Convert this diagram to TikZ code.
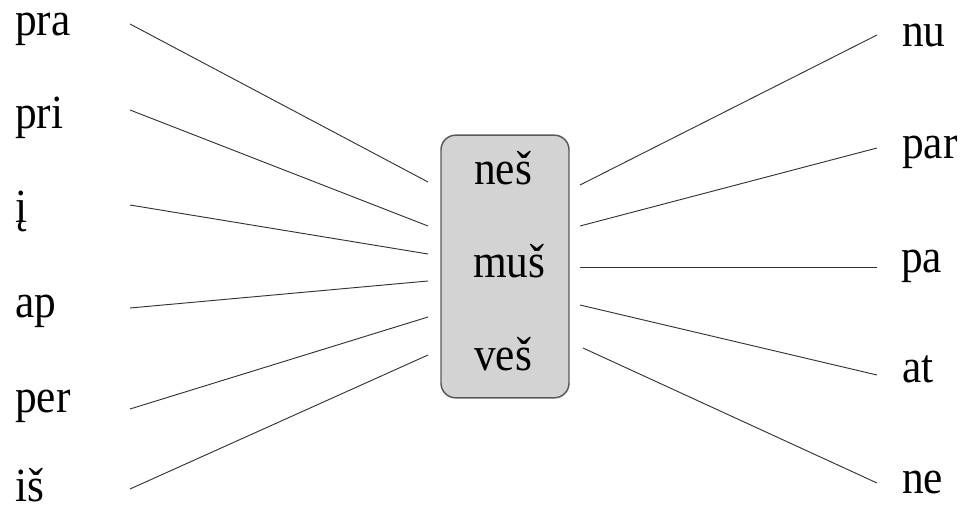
\documentclass[tikz,border=0pt]{standalone}
\usepackage{fontspec}
\setmainfont{Liberation Serif}
\usepackage{graphicx}
\usepackage{xcolor}
\usepackage{tikz}
\definecolor{boxgray}{RGB}{211,211,211}
\newcommand{\tallword}[1]{\scalebox{1}[1.1]{#1}}

\begin{document}
\begin{tikzpicture}[x=0.75pt, y=-0.75pt,
    word/.style={anchor=base west, inner sep=0pt, font=\fontsize{32.5}{38}\selectfont},
    link/.style={draw=black!80, line width=0.7pt},
    morph/.style={draw=black!65, line width=1.1pt, fill=boxgray, rounded corners=11pt,
                  minimum width=96pt, minimum height=197pt}]
            \useasboundingbox (0,0) rectangle (965,510);
            % center box
            \node[morph] (box) at (505,266.5) {};
            \node[word] (nes) at (474,185) {\tallword{neš}};
            \node[word] (mus) at (473,277) {\tallword{muš}};
            \node[word] (ves) at (474,370) {\tallword{veš}};
            % prefixes
            \node[word] (pra) at (15,36)  {\tallword{pra}};
            \node[word] (pri) at (15,128) {\tallword{pri}};
            \node[word] (i)   at (15,222) {\tallword{į}};
            \node[word] (ap)  at (15,317) {\tallword{ap}};
            \node[word] (per) at (15,412) {\tallword{per}};
            \node[word] (is)  at (15,501) {\tallword{iš}};
            % suffixes
            \node[word] (nu)  at (902,47)  {\tallword{nu}};
            \node[word] (par) at (902,158) {\tallword{par}};
            \node[word] (pa)  at (901,272) {\tallword{pa}};
            \node[word] (at)  at (902,382) {\tallword{at}};
            \node[word] (ne)  at (902,493) {\tallword{ne}};
            % line ends
            \coordinate (pra-a) at (130,24);  \coordinate (pra-b) at (428,182);
            \coordinate (pri-a) at (130,110); \coordinate (pri-b) at (428,226);
            \coordinate (i-a)   at (130,205); \coordinate (i-b)   at (428,254);
            \coordinate (ap-a)  at (130,308); \coordinate (ap-b)  at (428,281);
            \coordinate (per-a) at (130,409); \coordinate (per-b) at (428,317);
            \coordinate (is-a)  at (130,489); \coordinate (is-b)  at (428,355);
            \coordinate (nu-a)  at (580,185); \coordinate (nu-b)  at (877,35);
            \coordinate (par-a) at (580,226); \coordinate (par-b) at (877,148);
            \coordinate (pa-a)  at (580,267); \coordinate (pa-b)  at (877,267);
            \coordinate (at-a)  at (580,305); \coordinate (at-b)  at (877,375);
            \coordinate (ne-a)  at (583,348); \coordinate (ne-b)  at (877,483);
            \foreach \w in {pra,pri,i,ap,per,is,nu,par,pa,at,ne}
              \draw[link] (\w-a) -- (\w-b);
\end{tikzpicture}
\end{document}
